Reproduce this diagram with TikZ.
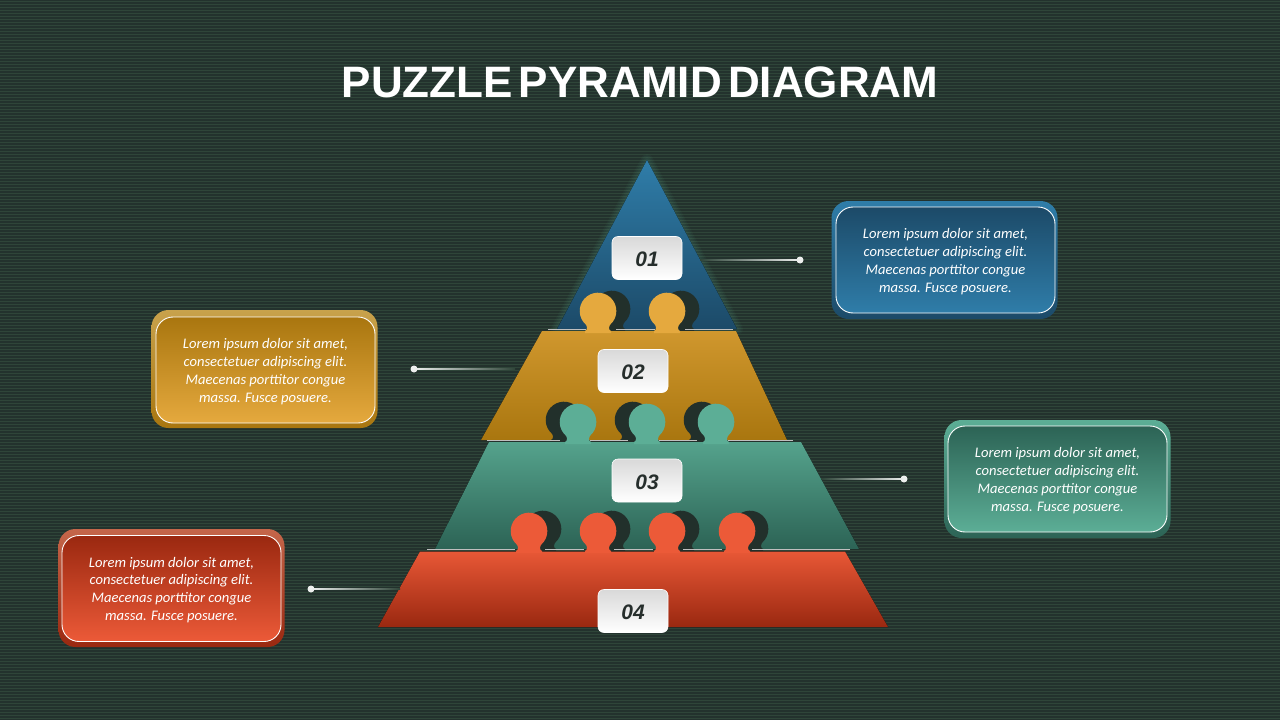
\documentclass[tikz,border=0pt]{standalone}
\usepackage{fontspec}
\setmainfont{Carlito}
\newfontfamily\titlefont{Liberation Sans}
\definecolor{bgd}{HTML}{23322D}
\definecolor{bgl}{HTML}{2F4539}
\definecolor{blueA}{HTML}{2F7DA9}\definecolor{blueB}{HTML}{1C4A68}
\definecolor{goldA}{HTML}{E5A93E}\definecolor{goldB}{HTML}{A9760F}
\definecolor{goldT}{HTML}{C8A24C}
\definecolor{tealA}{HTML}{5CAE96}\definecolor{tealB}{HTML}{2C6355}
\definecolor{redA}{HTML}{EC5A38}\definecolor{redB}{HTML}{9A2810}
\definecolor{redT}{HTML}{C4664A}
\definecolor{tabshadow}{HTML}{22302B}
\definecolor{numtext}{HTML}{262E2C}
\definecolor{leadc}{HTML}{EDEFEE}
\tikzset{
 x=1pt,y=-1pt,
 numbox/.style={draw=white,line width=.6pt,rounded corners=6pt,minimum width=70pt,minimum height=43pt,top color=black!15,bottom color=white,inner sep=0pt,font=\titlefont\bfseries\itshape\fontsize{21}{21}\selectfont,text=numtext},
 outerbox/.style={rounded corners=17pt,minimum width=226pt,minimum height=118pt,inner sep=0pt},
 innerbox/.style={draw=white,line width=.9pt,rounded corners=17pt,minimum width=219pt,minimum height=106pt,inner sep=0pt,align=center,text=white,font=\itshape\fontsize{14.6}{17.8}\selectfont},
 leaddot/.style={circle,fill=leadc,minimum size=7pt,inner sep=0pt},
 edge/.style={line width=1.4pt,white!75!black},
 glow/.style={draw=tealA,line join=round,line width=#1,draw opacity=.05},
 leadtoR/.style={left color=bgl,right color=leadc},
 leadtoL/.style={left color=leadc,right color=bgl},
}
% peg: #1 centre x, #2 y of the base line: a circle on a flared neck
\newcommand{\pegshape}[2]{%
 (#1-13,#2+2) -- (#1-13,#2) .. controls (#1-10.5,#2-1) and (#1-9.5,#2-5) .. (#1-14.6,#2-9)
 arc[start angle=143,end angle=397,radius=18.3]
 .. controls (#1+9.5,#2-5) and (#1+10.5,#2-1) .. (#1+13,#2) -- (#1+13,#2+2) -- cycle}
\newcommand{\lorem}{\rule{0pt}{13pt}Lorem ipsum dolor sit amet,\\consectetuer adipiscing elit.\\Maecenas porttitor congue\\massa. Fusce posuere.}
\newcommand{\numtxt}[1]{\raisebox{-1.3pt}[\height][\depth]{#1}}
\begin{document}
\begin{tikzpicture}
\useasboundingbox (0,0) rectangle (1280,720);
\fill[bgd] (0,0) rectangle (1280,720);
\foreach \yy in {1.5,4.5,...,720}{\draw[bgl,line width=1pt] (0,\yy) -- (1280,\yy);}

\node[text=white,font=\titlefont\bfseries\fontsize{44}{44}\selectfont] (title) at (640,82) {PUZZLE\hspace{6.2pt}PYRAMID\hspace{6.2pt}DIAGRAM};

% ---- tier 1
\foreach \gw in {3,6,9,12}{\draw[glow=\gw pt] (647,160) -- (737,329) -- (557,329) -- cycle;}
\fill[top color=blueA,bottom color=blueB]
 (647,160) -- (737,329) -- (557,329) -- cycle;
\fill[tabshadow] \pegshape{612}{329};
\fill[tabshadow] \pegshape{681}{329};
\draw[edge] (548,329.5) -- (586,329.5) (616,329.5) -- (655,329.5) (685,329.5) -- (733,329.5);

% ---- tier 2
\fill[top color=goldA!65!goldB,bottom color=goldB]
 (542,331) -- (736,331) -- (787,440) -- (481,440) -- cycle;
\fill[goldA] \pegshape{598}{331};
\fill[goldA] \pegshape{667}{331};
\fill[tabshadow] \pegshape{564}{440};
\fill[tabshadow] \pegshape{633}{440};
\fill[tabshadow] \pegshape{702}{440};
\draw[edge] (487,440.5) -- (560,440.5) (590,440.5) -- (628,440.5) (659,440.5) -- (697,440.5) (728,440.5) -- (793,440.5);

% ---- tier 3
\fill[top color=tealA!85!tealB,bottom color=tealB]
 (489,442) -- (801,442) -- (859,549) -- (435,549) -- cycle;
\fill[tealA] \pegshape{578}{442};
\fill[tealA] \pegshape{647}{442};
\fill[tealA] \pegshape{716}{442};
\fill[tabshadow] \pegshape{543}{549};
\fill[tabshadow] \pegshape{612}{549};
\fill[tabshadow] \pegshape{681}{549};
\fill[tabshadow] \pegshape{750}{549};
\draw[edge] (427,549.5) -- (515,549.5) (545,549.5) -- (584,549.5) (614,549.5) -- (653,549.5) (683,549.5) -- (722,549.5) (752,549.5) -- (850,549.5);

% ---- tier 4
\fill[top color=redA!95!redB,bottom color=redB]
 (420,551.5) -- (845,551.5) -- (888,627) -- (378,627) -- cycle;
\fill[redA] \pegshape{529}{551};
\fill[redA] \pegshape{598}{551};
\fill[redA] \pegshape{667}{551};
\fill[redA] \pegshape{737}{551};

% ---- number tabs
\node[numbox] (n1) at (647,258) {\numtxt{01}};
\node[numbox] (n2) at (633,371) {\numtxt{02}};
\node[numbox] (n3) at (647,480.5) {\numtxt{03}};
\node[numbox] (n4) at (633,611) {\numtxt{04}};

% ---- lead lines
\node[leaddot] (d1) at (800,260) {};
\node[leaddot] (d2) at (414,369) {};
\node[leaddot] (d3) at (904,479) {};
\node[leaddot] (d4) at (311,589) {};
\coordinate (e1) at (700,260);
\coordinate (e2) at (515,369);
\coordinate (e3) at (822,479);
\coordinate (e4) at (400,589);
\shade[leadtoR] ([yshift=-.8pt]e1) rectangle ([yshift=.8pt]d1.center);
\shade[leadtoL] ([yshift=-.8pt]d2.center) rectangle ([yshift=.8pt]e2);
\shade[leadtoR] ([yshift=-.8pt]e3) rectangle ([yshift=.8pt]d3.center);
\shade[leadtoL] ([yshift=-.8pt]d4.center) rectangle ([yshift=.8pt]e4);

% ---- text cards
\node[outerbox,top color=blueA,bottom color=blueB] (c1o) at (944.5,260) {};
\node[innerbox,top color=blueB,bottom color=blueA] (c1) at (945.5,260) {\lorem};
\node[outerbox,top color=goldT,bottom color=goldB] (c2o) at (264.5,369) {};
\node[innerbox,top color=goldB,bottom color=goldA] (c2) at (265.5,370) {\lorem};
\node[outerbox,top color=tealA,bottom color=tealB] (c3o) at (1057.5,479) {};
\node[innerbox,top color=tealB,bottom color=tealA] (c3) at (1057.5,479) {\lorem};
\node[outerbox,top color=redT,bottom color=redB] (c4o) at (171.5,588) {};
\node[innerbox,top color=redB,bottom color=redA] (c4) at (171.5,588.5) {\lorem};
\end{tikzpicture}
\end{document}
